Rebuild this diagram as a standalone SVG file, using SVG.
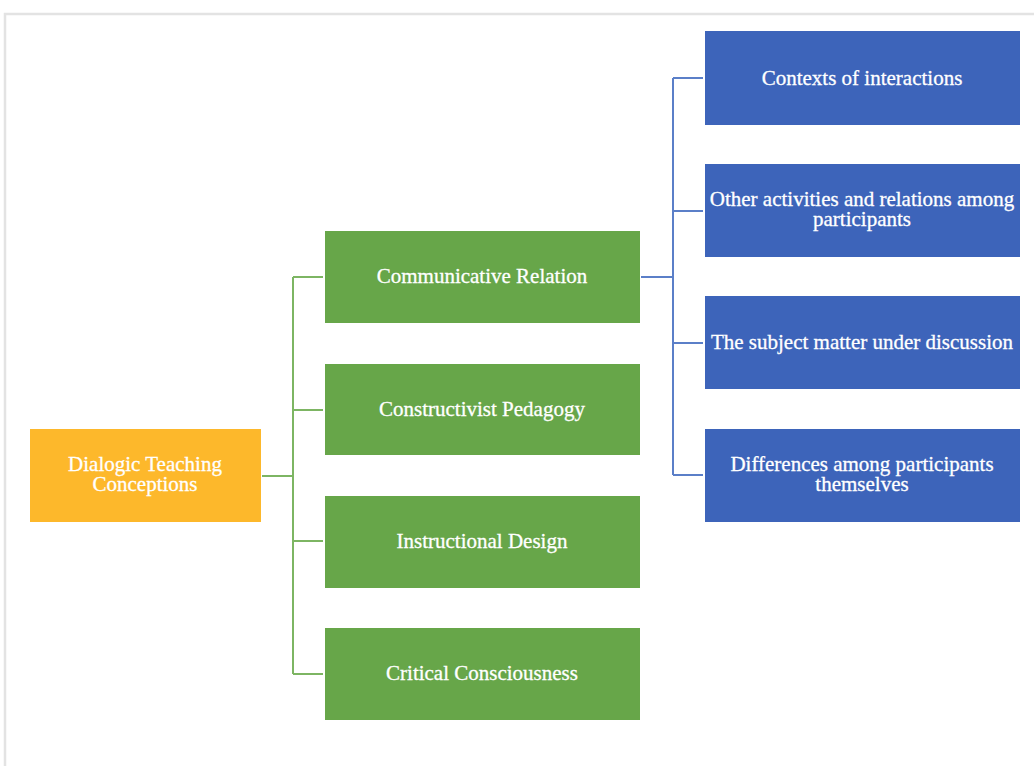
<svg xmlns="http://www.w3.org/2000/svg" width="1034" height="766" viewBox="0 0 1034 766">
<style>
.t{font-family:"Liberation Serif","Times New Roman",serif;font-size:21px;fill:#fff;stroke:#fff;stroke-width:0.3;text-anchor:middle;dominant-baseline:central}
.g{fill:#67A649}
.b{fill:#3D64BA}
.y{fill:#FDB82B}
.cg{stroke:#7DB563;stroke-width:2;fill:none}
.cb{stroke:#5B7FC8;stroke-width:2;fill:none}
</style>
<rect width="1034" height="766" fill="#fff"/>
<path d="M5 766V14H1034" stroke="#E3E3E3" stroke-width="2.5" fill="none"/>
<g id="connectors">
<path class="cg" d="M262 476H293M293 277V674M293 277H323M293 410H323M293 541H323M293 674H323"/>
<path class="cb" d="M641 277H673M673 78V475M673 78H703M673 211H703M673 343H703M673 475H703"/>
</g>
<g id="root"><rect class="y" x="30" y="429" width="231" height="93"/><text class="t" x="145" y="464">Dialogic Teaching<tspan x="145" dy="20">Conceptions</tspan></text></g>
<g id="n1"><rect class="g" x="325" y="231" width="315" height="92"/><text class="t" x="482" y="276">Communicative Relation</text></g>
<g id="n2"><rect class="g" x="325" y="364" width="315" height="91"/><text class="t" x="482" y="409">Constructivist Pedagogy</text></g>
<g id="n3"><rect class="g" x="325" y="496" width="315" height="92"/><text class="t" x="482" y="541">Instructional Design</text></g>
<g id="n4"><rect class="g" x="325" y="628" width="315" height="92"/><text class="t" x="482" y="673">Critical Consciousness</text></g>
<g id="m1"><rect class="b" x="705" y="31" width="315" height="94"/><text class="t" x="862" y="78">Contexts of interactions</text></g>
<g id="m2"><rect class="b" x="705" y="164" width="315" height="93"/><text class="t" x="862" y="199">Other activities and relations among<tspan x="862" dy="20">participants</tspan></text></g>
<g id="m3"><rect class="b" x="705" y="296" width="315" height="93"/><text class="t" x="862" y="342">The subject matter under discussion</text></g>
<g id="m4"><rect class="b" x="705" y="429" width="315" height="93"/><text class="t" x="862" y="464">Differences among participants<tspan x="862" dy="20">themselves</tspan></text></g>
</svg>
